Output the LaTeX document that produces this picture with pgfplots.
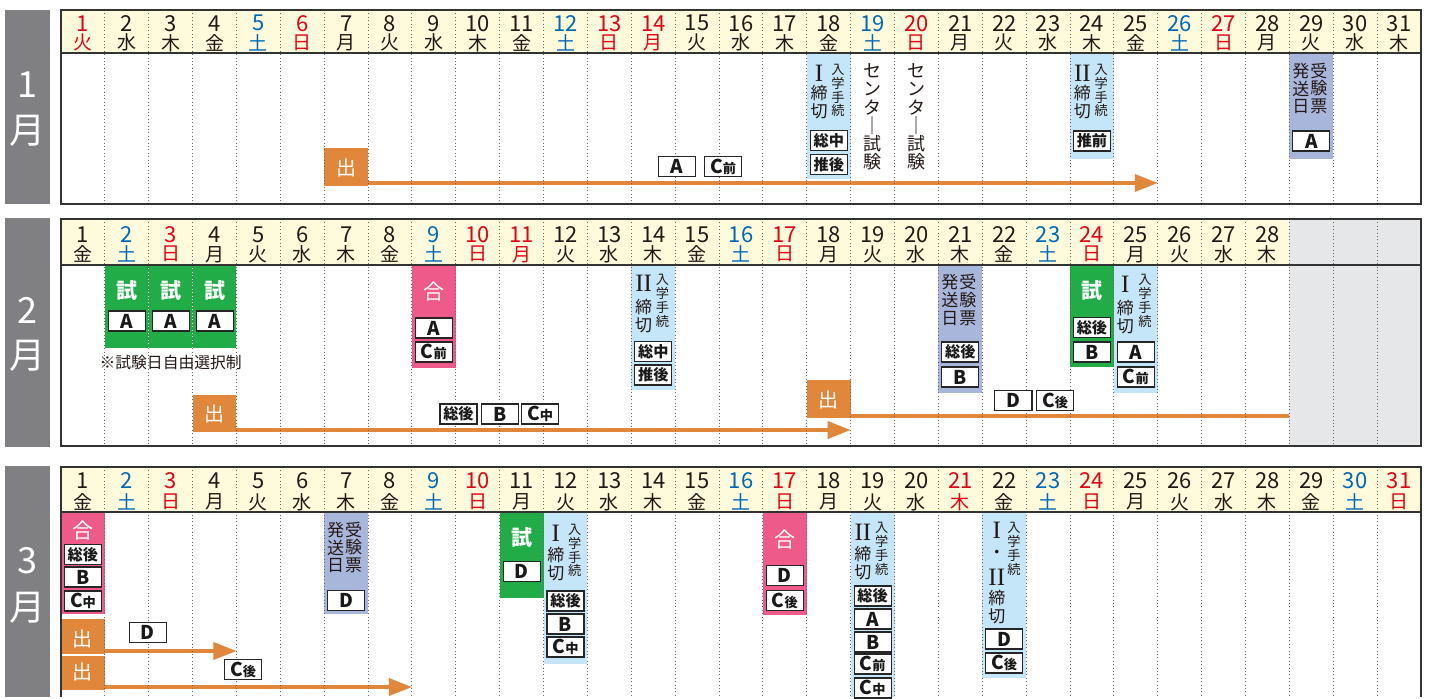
\documentclass[border=0pt]{standalone}
\usepackage{pgfplots}
\pgfplotsset{compat=1.18}
\usepackage{fontspec}
\setmainfont{Noto Sans CJK JP}
\newfontfamily\rmn{Liberation Serif}
\usetikzlibrary{arrows.meta}
\definecolor{hdr}{RGB}{254,251,220}
\definecolor{sat}{RGB}{0,104,183}
\definecolor{sun}{RGB}{230,0,18}
\definecolor{txt}{RGB}{35,24,21}
\definecolor{mgrey}{RGB}{128,128,131}
\definecolor{cgrey}{RGB}{230,231,233}
\definecolor{ltblue}{RGB}{197,230,248}
\definecolor{lav}{RGB}{168,182,220}
\definecolor{grn}{RGB}{34,172,72}
\definecolor{pnk}{RGB}{238,90,138}
\definecolor{org}{RGB}{224,135,60}
\newcommand{\numf}{\fontsize{11}{11}\selectfont}
\newcommand{\wdf}{\fontsize{9.5}{9.5}\selectfont}
\newcommand{\kf}{\fontsize{8.5}{9}\selectfont}
\newcommand{\kfs}{\fontsize{6.6}{6.9}\selectfont}
\newcommand{\jf}{\fontsize{8.5}{8.85}\selectfont}
\newcommand{\cf}{\fontsize{9}{9.15}\selectfont}
\newcommand{\rmnf}{\rmn\fontsize{12.5}{12.5}\selectfont}
\newcommand{\LL}[1]{{\fontsize{9.5}{9.5}\selectfont\bfseries #1}}
\newcommand{\LK}[1]{{\fontsize{7.6}{7.6}\selectfont\bfseries #1}}
\newcommand{\LC}[1]{{\fontsize{9.5}{9.5}\selectfont\bfseries C}{\fontsize{6.6}{6.6}\selectfont\bfseries #1}}
\tikzset{
 t/.style={inner sep=0pt, text=txt, align=center},
 wt/.style={inner sep=0pt, text=white},
 lb/.style={draw=black!85, line width=0.55pt, fill=white, minimum width=18.5pt, minimum height=10pt, inner sep=0pt, text=black!90},
 gridl/.style={draw=black!60, line width=0.5pt, dash pattern=on 0.5pt off 1.2pt},
 frm/.style={draw=black!80, line width=1pt},
}
% header cells: day, weekday, colour
\newcommand{\hA}[3]{\node[inner sep=0pt,text=#3,font=\numf] at (axis cs:#1,23.3){#1};\node[inner sep=0pt,text=#3,font=\wdf] at (axis cs:#1,42.8){#2};}
\newcommand{\hB}[3]{\node[inner sep=0pt,text=#3,font=\numf] at (axis cs:#1,234.5){#1};\node[inner sep=0pt,text=#3,font=\wdf] at (axis cs:#1,254.3){#2};}
\newcommand{\hC}[3]{\node[inner sep=0pt,text=#3,font=\numf] at (axis cs:#1,481){#1};\node[inner sep=0pt,text=#3,font=\wdf] at (axis cs:#1,502){#2};}
% coloured block: x1, x2, y1, y2, colour
\newcommand{\blk}[5]{\addplot[fill=#5,draw=none,forget plot] coordinates {(#1,#3) (#2,#3) (#2,#4) (#1,#4)};}
\newcommand{\lbox}[3]{\node[lb] at (axis cs:#1,#2) {#3};}
\begin{document}
\begin{tikzpicture}
\begin{axis}[width=715pt,height=348.5pt,scale only axis,
  xmin=-0.8905,xmax=31.7051,ymin=0,ymax=697,y dir=reverse,
  hide axis,clip=false]
% backgrounds
\blk{-0.8905}{31.7051}{0}{697}{white}
\blk{0.5}{31.5}{10}{53}{hdr}
\blk{0.5}{28.5}{219}{265}{hdr}
\blk{28.5}{31.5}{219}{446}{cgrey}
\blk{0.5}{31.5}{467}{512}{hdr}
% month boxes
\blk{-0.7765}{0.2493}{10}{204}{mgrey}
\blk{-0.7765}{0.2493}{218}{447}{mgrey}
\blk{-0.7765}{0.2493}{466}{697}{mgrey}
% ---- January blocks
\blk{6.5}{7.5}{148}{186}{org}
\blk{17.5}{18.5}{53}{179}{ltblue}
\blk{23.5}{24.5}{53}{159}{ltblue}
\blk{28.5}{29.5}{53}{159}{lav}
% ---- February blocks
\blk{1.5}{4.5}{265}{348}{grn}
\blk{8.5}{9.5}{265}{368}{pnk}
\blk{3.5}{4.5}{395}{432}{org}
\blk{13.5}{14.5}{265}{390}{ltblue}
\blk{17.5}{18.5}{380}{418}{org}
\blk{20.5}{21.5}{265}{393}{lav}
\blk{23.5}{24.5}{265}{367}{grn}
\blk{24.5}{25.5}{265}{393}{ltblue}
% ---- March blocks
\blk{0.5}{1.5}{512}{614}{pnk}
\blk{0.5}{1.5}{619}{654}{org}
\blk{0.5}{1.5}{656}{690}{org}
\blk{6.5}{7.5}{512}{614}{lav}
\blk{10.5}{11.5}{512}{598}{grn}
\blk{11.5}{12.5}{512}{664}{ltblue}
\blk{16.5}{17.5}{512}{615}{pnk}
\blk{18.5}{19.5}{512}{697}{ltblue}
\blk{21.5}{22.5}{512}{678}{ltblue}
% orange arrows
\addplot[org,line width=1.8pt,-{Triangle[length=11.5pt,width=8.5pt]},forget plot] coordinates {(7.5,183) (25.5,183)};
\addplot[org,line width=1.8pt,-{Triangle[length=11.5pt,width=8.5pt]},forget plot] coordinates {(4.5,430) (18.5,430)};
\addplot[org,line width=1.8pt,forget plot] coordinates {(18.5,416) (28.5,416)};
\addplot[org,line width=1.8pt,-{Triangle[length=11.5pt,width=8.5pt]},forget plot] coordinates {(1.5,651) (4.5,651)};
\addplot[org,line width=1.8pt,-{Triangle[length=11.5pt,width=8.5pt]},forget plot] coordinates {(1.5,687) (8.5,687)};
% grid
\pgfplotsinvokeforeach{1.5,2.5,...,30.5}{
  \draw[gridl] (axis cs:#1,10) -- (axis cs:#1,204);
  \draw[gridl] (axis cs:#1,219) -- (axis cs:#1,446);
  \draw[gridl] (axis cs:#1,467) -- (axis cs:#1,697);
}
\draw[white,line width=0.5pt,dash pattern=on 0.5pt off 1.2pt] (axis cs:2.5,265) -- (axis cs:2.5,348);
\draw[white,line width=0.5pt,dash pattern=on 0.5pt off 1.2pt] (axis cs:3.5,265) -- (axis cs:3.5,348);
% frames
\draw[frm] (axis cs:0.5,10) rectangle (axis cs:31.5,204);
\draw[frm] (axis cs:0.5,219) rectangle (axis cs:31.5,446);
\draw[frm] (axis cs:0.5,697) -- (axis cs:0.5,467) -- (axis cs:31.5,467) -- (axis cs:31.5,697);
\draw[draw=black!80,line width=0.7pt] (axis cs:0.5,53) -- (axis cs:31.5,53);
\draw[draw=black!80,line width=0.7pt] (axis cs:0.5,265) -- (axis cs:31.5,265);
\draw[draw=black!80,line width=0.7pt] (axis cs:0.5,512) -- (axis cs:31.5,512);
% month labels
\node[wt,font=\fontsize{18}{18}\selectfont] at (axis cs:-0.2636,84.5) {1};
\node[wt,font=\fontsize{18}{18}\selectfont] at (axis cs:-0.2636,131) {月};
\node[wt,font=\fontsize{18}{18}\selectfont] at (axis cs:-0.2636,310.5) {2};
\node[wt,font=\fontsize{18}{18}\selectfont] at (axis cs:-0.2636,356) {月};
\node[wt,font=\fontsize{18}{18}\selectfont] at (axis cs:-0.2636,561) {3};
\node[wt,font=\fontsize{18}{18}\selectfont] at (axis cs:-0.2636,607.5) {月};
% headers January
\hA{1}{火}{sun}\hA{2}{水}{txt}\hA{3}{木}{txt}\hA{4}{金}{txt}\hA{5}{土}{sat}\hA{6}{日}{sun}
\hA{7}{月}{txt}\hA{8}{火}{txt}\hA{9}{水}{txt}\hA{10}{木}{txt}\hA{11}{金}{txt}\hA{12}{土}{sat}
\hA{13}{日}{sun}\hA{14}{月}{sun}\hA{15}{火}{txt}\hA{16}{水}{txt}\hA{17}{木}{txt}\hA{18}{金}{txt}
\hA{19}{土}{sat}\hA{20}{日}{sun}\hA{21}{月}{txt}\hA{22}{火}{txt}\hA{23}{水}{txt}\hA{24}{木}{txt}
\hA{25}{金}{txt}\hA{26}{土}{sat}\hA{27}{日}{sun}\hA{28}{月}{txt}\hA{29}{火}{txt}\hA{30}{水}{txt}
\hA{31}{木}{txt}
% headers February
\hB{1}{金}{txt}\hB{2}{土}{sat}\hB{3}{日}{sun}\hB{4}{月}{txt}\hB{5}{火}{txt}\hB{6}{水}{txt}
\hB{7}{木}{txt}\hB{8}{金}{txt}\hB{9}{土}{sat}\hB{10}{日}{sun}\hB{11}{月}{sun}\hB{12}{火}{txt}
\hB{13}{水}{txt}\hB{14}{木}{txt}\hB{15}{金}{txt}\hB{16}{土}{sat}\hB{17}{日}{sun}\hB{18}{月}{txt}
\hB{19}{火}{txt}\hB{20}{水}{txt}\hB{21}{木}{txt}\hB{22}{金}{txt}\hB{23}{土}{sat}\hB{24}{日}{sun}
\hB{25}{月}{txt}\hB{26}{火}{txt}\hB{27}{水}{txt}\hB{28}{木}{txt}
% headers March
\hC{1}{金}{txt}\hC{2}{土}{sat}\hC{3}{日}{sun}\hC{4}{月}{txt}\hC{5}{火}{txt}\hC{6}{水}{txt}
\hC{7}{木}{txt}\hC{8}{金}{txt}\hC{9}{土}{sat}\hC{10}{日}{sun}\hC{11}{月}{txt}\hC{12}{火}{txt}
\hC{13}{水}{txt}\hC{14}{木}{txt}\hC{15}{金}{txt}\hC{16}{土}{sat}\hC{17}{日}{sun}\hC{18}{月}{txt}
\hC{19}{火}{txt}\hC{20}{水}{txt}\hC{21}{木}{sun}\hC{22}{金}{txt}\hC{23}{土}{sat}\hC{24}{日}{sun}
\hC{25}{月}{txt}\hC{26}{火}{txt}\hC{27}{水}{txt}\hC{28}{木}{txt}\hC{29}{金}{txt}\hC{30}{土}{sat}
\hC{31}{日}{sun}
% ===== January texts
\node[wt,font=\fontsize{10}{10}\selectfont] at (axis cs:7,168) {出};
\lbox{14.54}{166.5}{\LL{A}}
\lbox{15.59}{166.5}{\LC{前}}
\node[t,font=\rmnf] at (axis cs:17.78,73.5) {I};
\node[t,font=\kf] at (axis cs:17.78,102.5) {締\\切};
\node[t,font=\kfs] at (axis cs:18.21,90.5) {入\\学\\手\\続};
\lbox{18}{140.5}{\LK{総中}}
\lbox{18}{164.5}{\LK{推後}}
\node[t,font=\cf] at (axis cs:19,117) {セ\\ン\\タ\\｜\\試\\験};
\node[t,font=\cf] at (axis cs:20,117) {セ\\ン\\タ\\｜\\試\\験};
\node[t,font=\rmnf] at (axis cs:23.78,73.5) {II};
\node[t,font=\kf] at (axis cs:23.78,102.5) {締\\切};
\node[t,font=\kfs] at (axis cs:24.21,90.5) {入\\学\\手\\続};
\lbox{24}{141}{\LK{推前}}
\node[t,font=\jf] at (axis cs:28.76,88.5) {発\\送\\日};
\node[t,font=\jf] at (axis cs:29.17,88.5) {受\\験\\票};
\lbox{29}{141}{\LL{A}}
% ===== February texts
\node[wt,font=\fontsize{10.5}{10.5}\selectfont\bfseries] at (axis cs:2,291) {試};
\node[wt,font=\fontsize{10.5}{10.5}\selectfont\bfseries] at (axis cs:3,291) {試};
\node[wt,font=\fontsize{10.5}{10.5}\selectfont\bfseries] at (axis cs:4,291) {試};
\lbox{2}{321}{\LL{A}}
\lbox{3}{321}{\LL{A}}
\lbox{4}{321}{\LL{A}}
\node[t,font=\fontsize{7.9}{7.9}\selectfont] at (axis cs:3.0,362) {※試験日自由選択制};
\node[wt,font=\fontsize{10.5}{10.5}\selectfont] at (axis cs:9,292) {合};
\lbox{9}{328}{\LL{A}}
\lbox{9}{352}{\LC{前}}
\node[wt,font=\fontsize{10}{10}\selectfont] at (axis cs:4,414) {出};
\lbox{9.56}{414}{\LK{総後}}
\lbox{10.5}{414}{\LL{B}}
\lbox{11.42}{414}{\LC{中}}
\node[t,font=\rmnf] at (axis cs:13.78,283.5) {II};
\node[t,font=\kf] at (axis cs:13.78,316) {締\\切};
\node[t,font=\kfs] at (axis cs:14.21,301) {入\\学\\手\\続};
\lbox{14}{351.5}{\LK{総中}}
\lbox{14}{375}{\LK{推後}}
\node[wt,font=\fontsize{10}{10}\selectfont] at (axis cs:18,400) {出};
\node[t,font=\jf] at (axis cs:20.76,300) {発\\送\\日};
\node[t,font=\jf] at (axis cs:21.17,300) {受\\験\\票};
\lbox{21}{352}{\LK{総後}}
\lbox{21}{377}{\LL{B}}
\lbox{22.21}{400.5}{\LL{D}}
\lbox{23.16}{400.5}{\LC{後}}
\node[wt,font=\fontsize{10.5}{10.5}\selectfont\bfseries] at (axis cs:24,291) {試};
\lbox{24}{327.5}{\LK{総後}}
\lbox{24}{352}{\LL{B}}
\node[t,font=\rmnf] at (axis cs:24.76,284.5) {I};
\node[t,font=\kf] at (axis cs:24.76,317.5) {締\\切};
\node[t,font=\kfs] at (axis cs:25.21,301) {入\\学\\手\\続};
\lbox{25}{352}{\LL{A}}
\lbox{25}{377}{\LC{前}}
% ===== March texts
\node[wt,font=\fontsize{10.5}{10.5}\selectfont] at (axis cs:1,531) {合};
\lbox{1}{554.5}{\LK{総後}}
\lbox{1}{577}{\LL{B}}
\lbox{1}{601}{\LC{中}}
\node[wt,font=\fontsize{10}{10}\selectfont] at (axis cs:1,639) {出};
\node[wt,font=\fontsize{10}{10}\selectfont] at (axis cs:1,671.5) {出};
\lbox{2.48}{632.5}{\LL{D}}
\lbox{4.65}{669.5}{\LC{後}}
\node[t,font=\jf] at (axis cs:6.76,547.5) {発\\送\\日};
\node[t,font=\jf] at (axis cs:7.17,547.5) {受\\験\\票};
\lbox{7}{600.5}{\LL{D}}
\node[wt,font=\fontsize{10.5}{10.5}\selectfont\bfseries] at (axis cs:11,538) {試};
\lbox{11}{571.5}{\LL{D}}
\node[t,font=\rmnf] at (axis cs:11.78,533) {I};
\node[t,font=\kf] at (axis cs:11.78,564.5) {締\\切};
\node[t,font=\kfs] at (axis cs:12.21,550.5) {入\\学\\手\\続};
\lbox{12}{601}{\LK{総後}}
\lbox{12}{624}{\LL{B}}
\lbox{12}{647}{\LC{中}}
\node[wt,font=\fontsize{10.5}{10.5}\selectfont] at (axis cs:17,540) {合};
\lbox{17}{575.5}{\LL{D}}
\lbox{17}{600.5}{\LC{後}}
\node[t,font=\rmnf] at (axis cs:18.78,532) {II};
\node[t,font=\kf] at (axis cs:18.78,563) {締\\切};
\node[t,font=\kfs] at (axis cs:19.21,549) {入\\学\\手\\続};
\lbox{19}{596}{\LK{総後}}
\lbox{19}{619}{\LL{A}}
\lbox{19}{642}{\LL{B}}
\lbox{19}{664}{\LC{前}}
\lbox{19}{688}{\LC{中}}
\node[t,font=\rmnf] at (axis cs:21.83,530) {I};
\node[t,font=\kf] at (axis cs:21.83,554) {・};
\node[t,font=\rmnf] at (axis cs:21.83,577) {II};
\node[t,font=\kf] at (axis cs:21.83,607) {締\\切};
\node[t,font=\kfs] at (axis cs:22.22,549) {入\\学\\手\\続};
\lbox{22}{639}{\LL{D}}
\lbox{22}{663}{\LC{後}}
\end{axis}
\end{tikzpicture}
\end{document}
